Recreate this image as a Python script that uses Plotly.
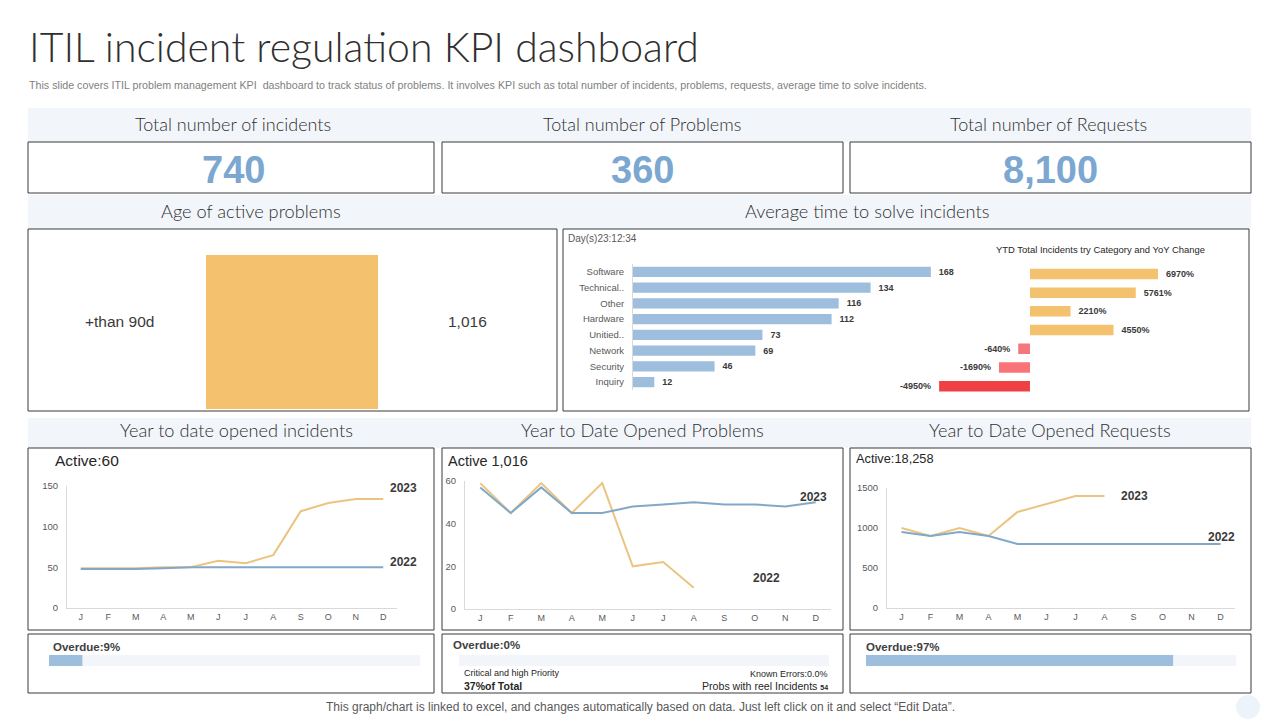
import plotly.graph_objects as go

W = 1280
H = 720

# colours
BLUE = "#9DBEDD"
LINE_BLUE = "#82A8C8"
ORANGE = "#F4C26F"
LINE_ORANGE = "#EBC482"
BAND = "#F2F6FB"
DARK = "#3A3A3A"
GREY = "#595959"
HEAD = "#2F2F2F"

# data
kpi_titles = ["Total number of incidents", "Total number of Problems", "Total number of Requests"]
kpi_values = ["740", "360", "8,100"]

age_label = "+than 90d"
age_value = 1016

categories = ["Software", "Technical..", "Other", "Hardware", "Unitied..", "Network", "Security", "Inquiry"]
category_counts = [168, 134, 116, 112, 73, 69, 46, 12]

yoy_change = [6970, 5761, 2210, 4550, -640, -1690, -4950]
yoy_colors = [ORANGE, ORANGE, ORANGE, ORANGE, "#F5777D", "#F97379", "#EF4144"]

months = ["J", "F", "M", "A", "M", "J", "J", "A", "S", "O", "N", "D"]
month_pos = list(range(1, 13))

incidents_orange = [49, 49, 49, 50, 50, 58, 55, 65, 119, 129, 134, 134]
incidents_blue = [48, 48, 48, 49, 50, 50, 50, 50, 50, 50, 50, 50]
problems_orange = [59, 45, 59, 45, 59, 20, 22, 10]
problems_blue = [57, 45, 57, 45, 45, 48, 49, 50, 49, 49, 48, 50]
requests_orange = [1000, 900, 1000, 900, 1200, 1300, 1400, 1400]
requests_blue = [950, 900, 950, 900, 800, 800, 800, 800, 800, 800, 800, 800]

overdue_labels = ["Overdue:9%", "Overdue:0%", "Overdue:97%"]
overdue_fill = [9, 0, 83]

fig = go.Figure()
annotations = []
shapes = []
axis_count = 0


def px_x(x):
    return x / W


def px_y(y):
    return 1 - y / H


def text(x, y, s, size=12, color=DARK, anchor="left", font="Liberation Sans", bold=False, weight=None):
    if bold:
        s = "<b>" + s + "</b>"
    f = dict(family=font, size=size, color=color)
    if weight:
        f["weight"] = weight
    annotations.append(dict(x=px_x(x), y=px_y(y), xref="paper", yref="paper", text=s, showarrow=False,
                            xanchor=anchor, yanchor="middle", align=anchor, borderpad=0, font=f))


def rect(x0, y0, x1, y1, fill=None, line=None):
    shapes.append(dict(type="rect", xref="paper", yref="paper", layer="below",
                       x0=px_x(x0), x1=px_x(x1), y0=px_y(y0), y1=px_y(y1),
                       fillcolor=fill if fill else "rgba(0,0,0,0)",
                       line=dict(color=line if line else "rgba(0,0,0,0)", width=1 if line else 0)))


def new_axes(x0, y0, x1, y1, xopts, yopts):
    # makes an axis pair over a pixel box, returns the names for the traces
    global axis_count
    axis_count += 1
    n = "" if axis_count == 1 else str(axis_count)
    base = dict(showgrid=False, zeroline=False, ticks="", fixedrange=True)
    xa = dict(base, domain=[px_x(x0), px_x(x1)], anchor="y" + n)
    ya = dict(base, domain=[px_y(y1), px_y(y0)], anchor="x" + n)
    xa.update(xopts)
    ya.update(yopts)
    fig.update_layout(**{"xaxis" + n: xa, "yaxis" + n: ya})
    return "x" + n, "y" + n


# background bands and boxes
rect(28, 108, 1251, 142, fill=BAND)
rect(28, 195, 1251, 229, fill=BAND)
rect(28, 418, 1251, 448, fill=BAND)
for box in [(28, 142, 434, 193), (442, 142, 843, 193), (850, 142, 1251, 193),
            (28, 229, 557, 411), (563, 229, 1249, 411),
            (28, 448, 434, 630), (442, 448, 843, 630), (850, 448, 1251, 630),
            (28, 634, 434, 693), (442, 634, 843, 693), (850, 634, 1251, 693)]:
    rect(box[0], box[1], box[2], box[3], line=DARK)
shapes.append(dict(type="circle", xref="paper", yref="paper", layer="below",
                   x0=px_x(1236), x1=px_x(1260), y0=px_y(719), y1=px_y(695),
                   fillcolor="#EDF3FB", line=dict(width=0)))

# header text
text(28, 47, "ITIL incident regulation KPI dashboard", size=41, color=HEAD, font="Lato", weight=300)
text(28, 85, "This slide covers ITIL problem management KPI  dashboard to track status of problems. It involves KPI "
     "such as total number of incidents, problems, requests, average time to solve incidents.", size=10.7, color="#7F7F7F")

for cx, title in zip([233, 642, 1048], kpi_titles):
    text(cx, 124, title, size=18, color=HEAD, anchor="center", font="Lato", weight=300)
for cx, val in zip([233, 642, 1050], kpi_values):
    text(cx, 170, val, size=38, color="#7BA7D1", anchor="center", bold=True)

text(251, 211, "Age of active problems", size=18.2, color=HEAD, anchor="center", font="Lato", weight=300)
text(867, 211, "Average time to solve incidents", size=18.2, color=HEAD, anchor="center", font="Lato", weight=300)
text(236, 430, "Year to date opened incidents", size=18.2, color=HEAD, anchor="center", font="Lato", weight=300)
text(642, 430, "Year to Date Opened Problems", size=18.2, color=HEAD, anchor="center", font="Lato", weight=300)
text(1050, 430, "Year to Date Opened Requests", size=18.2, color=HEAD, anchor="center", font="Lato", weight=300)

# age of active problems
xa, ya = new_axes(206, 255, 378, 409,
                  dict(visible=False, type="category"),
                  dict(visible=False, range=[0, age_value]))
fig.add_trace(go.Bar(x=[age_label], y=[age_value], width=1, marker=dict(color=ORANGE, line=dict(width=0)),
                     xaxis=xa, yaxis=ya))
text(119, 321, age_label, size=15.5, anchor="center")
text(467, 321, "{:,}".format(age_value), size=15.5, anchor="center")

# incidents per category
text(567, 239, "Day(s)23:12:34", size=10, color=GREY)
xa, ya = new_axes(633, 264, 987.6, 390,
                  dict(visible=False, range=[0, 200]),
                  dict(autorange="reversed", showline=True, linecolor="#D9D9D9", linewidth=1,
                       ticks="outside", ticklen=6, tickcolor="rgba(0,0,0,0)",
                       tickfont=dict(family="Liberation Sans", size=9.5, color=GREY)))
fig.add_trace(go.Bar(y=categories, x=category_counts, orientation="h", width=0.65,
                     marker=dict(color=BLUE, line=dict(width=0)),
                     text=["<b>\u00a0\u00a0{}</b>".format(v) for v in category_counts], textposition="outside",
                     textfont=dict(family="Liberation Sans", size=9, color=DARK), cliponaxis=False,
                     xaxis=xa, yaxis=ya))

# yoy change
text(1100, 249, "YTD Total Incidents try Category and YoY Change", size=9.45, color="#262626", anchor="center")
xa, ya = new_axes(900, 264.6, 1230, 395.5,
                  dict(visible=False, range=[-7080, 10893]),
                  dict(visible=False, autorange="reversed", type="category"))
yoy_text = ["<b>\u00a0\u00a0{}%</b>".format(v) if v > 0 else "<b>{}%\u00a0\u00a0</b>".format(v) for v in yoy_change]
fig.add_trace(go.Bar(y=[str(i) for i in range(len(yoy_change))], x=yoy_change, orientation="h", width=0.56,
                     marker=dict(color=yoy_colors, line=dict(width=0)),
                     text=yoy_text, textposition="outside",
                     textfont=dict(family="Liberation Sans", size=9, color=DARK), cliponaxis=False,
                     xaxis=xa, yaxis=ya))


def line_chart(box, ymax, ystep, orange, blue):
    xa, ya = new_axes(box[0], box[1], box[2], box[3],
                      dict(range=[0.5, 12.5], tickvals=month_pos, ticktext=months, showline=True,
                           linecolor="#D9D9D9", linewidth=1,
                           tickfont=dict(family="Liberation Sans", size=9, color=GREY)),
                      dict(range=[0, ymax], dtick=ystep, showline=True, linecolor="#D9D9D9", linewidth=1,
                           ticks="outside", ticklen=6, tickcolor="rgba(0,0,0,0)",
                           tickfont=dict(family="Liberation Sans", size=9.5, color=GREY)))
    fig.add_trace(go.Scatter(x=month_pos[:len(orange)], y=orange, mode="lines",
                             line=dict(color=LINE_ORANGE, width=2), cliponaxis=False, xaxis=xa, yaxis=ya))
    fig.add_trace(go.Scatter(x=month_pos[:len(blue)], y=blue, mode="lines",
                             line=dict(color=LINE_BLUE, width=2), cliponaxis=False, xaxis=xa, yaxis=ya))


line_chart((67, 486, 397, 608), 150, 50, incidents_orange, incidents_blue)
line_chart((465, 481, 831, 609), 60, 20, problems_orange, problems_blue)
line_chart((887, 488, 1235, 608), 1500, 500, requests_orange, requests_blue)

text(54, 461, "Active:60", size=15.5, color="#262626")
text(447, 461, "Active 1,016", size=14.5, color="#262626")
text(855, 458, "Active:18,258", size=12.8, color="#262626")

text(403, 488, "2023", size=12, anchor="center", bold=True)
text(403, 562, "2022", size=12, anchor="center", bold=True)
text(813, 497, "2023", size=12, anchor="center", bold=True)
text(766, 578, "2022", size=12, anchor="center", bold=True)
text(1134, 496, "2023", size=12, anchor="center", bold=True)
text(1221, 537, "2022", size=12, anchor="center", bold=True)

# overdue bars
for box, fill in zip([(49, 655, 420, 666), (459, 655, 829, 666), (866, 655, 1236, 666)], overdue_fill):
    xa, ya = new_axes(box[0], box[1], box[2], box[3],
                      dict(visible=False, range=[0, 100]),
                      dict(visible=False, type="category"))
    fig.add_trace(go.Bar(y=["overdue"], x=[100], orientation="h", width=1,
                         marker=dict(color=BAND, line=dict(width=0)), xaxis=xa, yaxis=ya))
    fig.add_trace(go.Bar(y=["overdue"], x=[fill], orientation="h", width=1,
                         marker=dict(color=BLUE, line=dict(width=0)), xaxis=xa, yaxis=ya))

text(52, 647, overdue_labels[0], size=11.5, color="#404040", bold=True)
text(452, 645, overdue_labels[1], size=11.5, color="#404040", bold=True)
text(865, 647, overdue_labels[2], size=11.5, color="#404040", bold=True)

text(463, 673, "Critical and high Priority", size=9, color="#262626")
text(463, 686, "37%of Total", size=10.5, color="#262626", bold=True)
text(829, 674, "Known Errors:0.0%", size=9, color="#262626", anchor="right")
text(829, 686, "Probs with reel Incidents <b><span style='font-size:7px'>54</span></b>", size=10.6, color="#262626", anchor="right")

# footer
text(640, 707, "This graph/chart is linked to excel, and changes automatically based on data. Just left click on it and select “Edit Data”.",
     size=12, color=GREY, anchor="center")

fig.update_layout(width=W, height=H, margin=dict(l=0, r=0, t=0, b=0, autoexpand=False), showlegend=False, barmode="overlay",
                  plot_bgcolor="rgba(0,0,0,0)", paper_bgcolor="white", shapes=shapes, annotations=annotations,
                  hovermode=False)

fig.write_html("out.html", config=dict(displayModeBar=False),
               post_script="document.body.style.margin='0';document.body.style.overflow='hidden';")
